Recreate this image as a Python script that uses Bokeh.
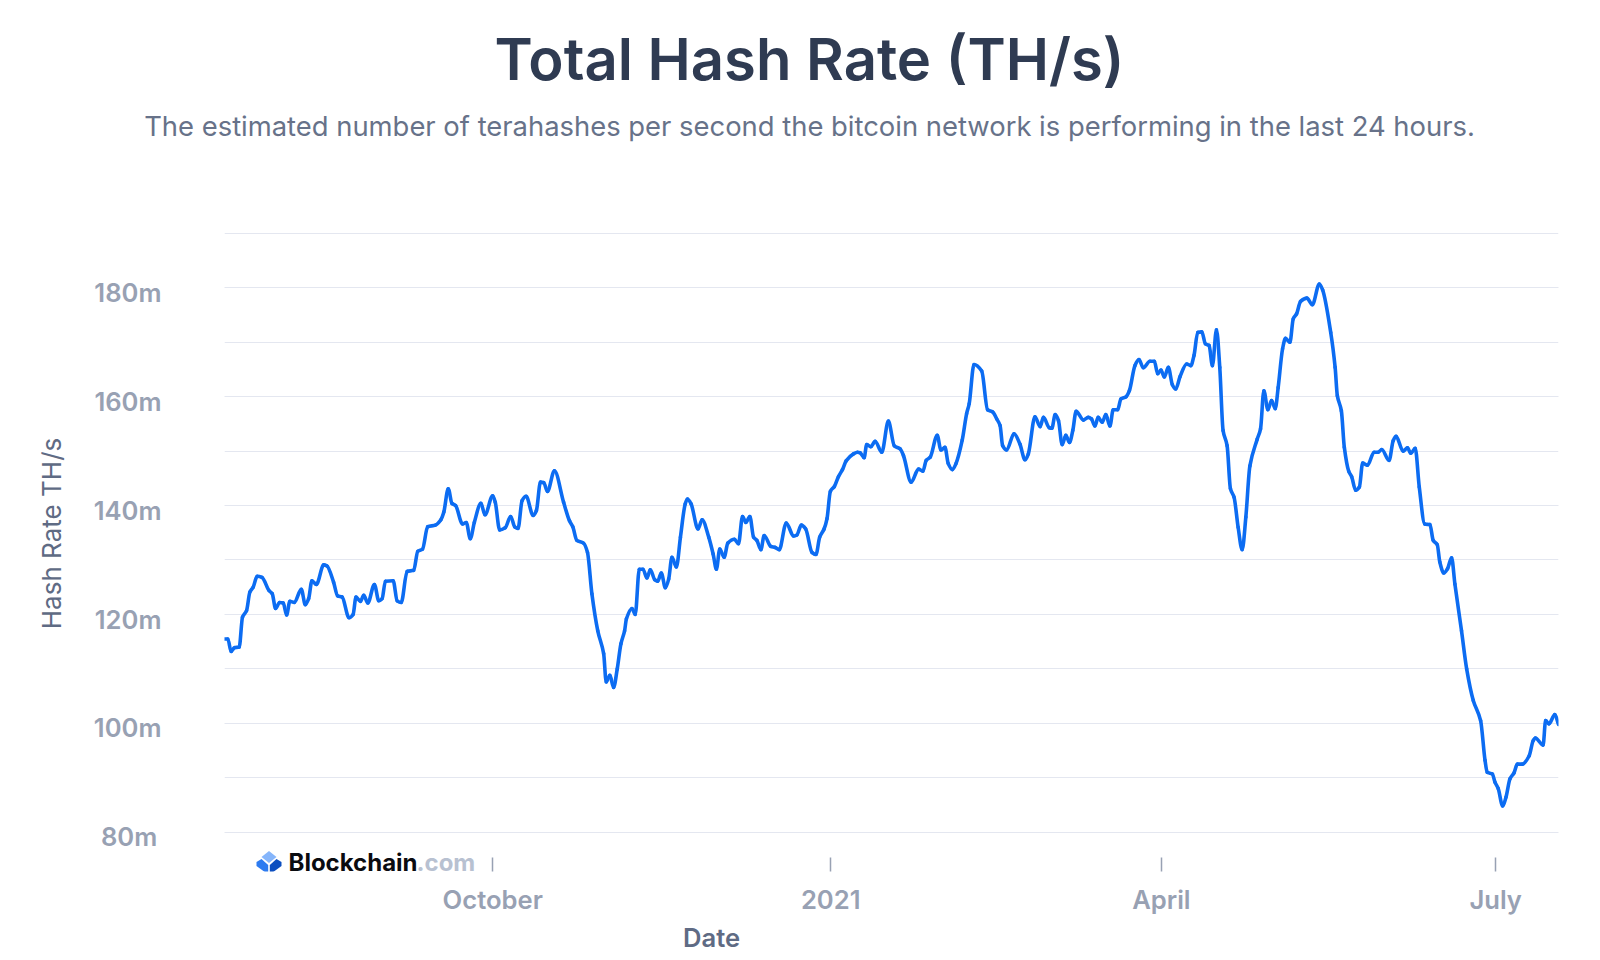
from datetime import datetime, timedelta
from bokeh.embed import file_html
from bokeh.resources import INLINE
from bokeh.plotting import figure
from bokeh.models import (Range1d, LinearAxis, FixedTicker, PrintfTickFormatter, Grid, Label, PolyAnnotation,
                          DatetimeAxis)

start_date = datetime(2020, 7, 20)
days = [0,0.9,1.8,2.7,4.0,4.9,6.0,6.9,7.8,8.9,10.2,12.1,13.0,13.9,15.0,16.0,16.9,17.8,19.0,20.9,22.0,22.9,23.8,25.0,27.0,27.9,29.7,30.8,32.0,33.9,35.0,35.8,37.0,37.9,39.0,40.8,42.0,42.9,43.8,45.9,47.0,48.1,49.7,51.5,52.6,53.9,55.3,57.4,58.9,59.7,60.9,61.9,62.9,64.8,65.8,66.9,68.0,69.8,70.9,73.0,73.7,74.9,76.4,77.9,79.0,79.9,81.0,82.1,84.0,84.9,86.0,86.9,87.9,89.8,92.3,93.9,94.8,95.9,97.7,98.8,100.0,101.6,103.2,103.9,104.9,105.9,106.9,107.9,108.9,109.4,110.9,111.8,112.9,113.9,115,115.9,117.1,117.9,118.9,120,120.9,121.8,123,124.1,125.4,126,127,128.9,130,131.8,133,133.9,134.8,136,137,138.8,139.9,141,141.9,143,144,144.9,146,146.9,148.7,149.9,151,152.9,154.9,155.8,157,158.2,159.9,161,162,163.2,164,164.9,166,167.1,168.2,169.2,171.2,172.3,173,174.1,174.8,175.9,177.1,178.9,180.7,182.3,183.9,184.8,186.9,188.9,190.1,191,192.1,194,195,196.1,197,198.1,199.1,200.8,202,202.7,204,206.1,207.7,209.1,210.2,211.1,211.8,212.9,214.9,216.5,217.9,218.8,220.6,222,222.9,224.5,225.2,226.1,227,228,229,230,230.9,231.8,233.8,235.1,236,236.9,237.8,238.9,239.9,241,241.9,243.1,244,245.4,246.3,247.8,248.9,250.1,251.9,253.1,254,254.9,255.8,256.9,258,258.9,260.1,261.9,263,263.9,264.9,266,267,268,268.9,270,270.9,271.8,272.9,273.8,274.8,275.9,277,278,279.1,281.1,282,282.9,284,285,286,286.8,288,288.8,290,290.9,291.8,292.9,294.6,296.1,298,298.9,301.1,302.3,302.9,304,304.8,306,306.8,307.9,308.9,309.8,311.1,312.9,314,315,317,318.1,318.9,320.8,322,322.9,324.1,325.2,326.7,328.1,329,330.1,330.8,331.9,332.9,334,334.9,336.7,338.1,339.9,341.9,343.1,343.7,345.1,345.8,346.7,347.9,348.8,349.9,351,351.9,353.3,355.1,356.2,356.8,358.9,359.6,360.5,362.1,363.1]
hash_rate_m = [115.5,115.5,113.2,113.9,114.0,119.5,120.7,124.1,125.0,127.0,126.8,124.4,123.8,121.1,122.2,122.1,119.9,122.4,122.2,124.6,121.8,122.9,126.2,125.5,129.1,128.9,125.9,123.4,123.2,119.4,120.0,123.2,122.4,123.5,122.1,125.5,122.5,122.9,126.1,126.2,122.5,122.2,127.9,128.1,131.6,132.0,136.1,136.4,137.4,138.8,143.1,140.4,140.0,136.6,136.9,133.9,136.9,140.4,138.3,141.8,140.6,135.5,135.9,138.0,136.1,135.8,140.9,141.7,138.2,139.1,144.3,144.2,142.6,146.4,140.6,137.2,136.1,133.6,133.1,131.4,123.8,117.0,112.8,107.6,108.8,106.6,110.0,114.6,117.0,119.2,121.1,120.0,128.3,128.3,126.7,128.2,126.4,126.1,127.6,124.9,126.5,130.5,128.7,134.2,140.3,141.2,140.3,135.7,137.4,134.2,131.1,128.3,132.0,130.5,133.1,133.8,133.0,138.0,136.9,138.0,134.2,133.6,131.9,134.5,132.5,132.3,131.9,136.8,134.4,134.6,136.4,135.7,131.4,131.0,134.2,135.7,137.6,142.6,143.5,145.3,146.6,148.2,149.5,149.8,149.7,148.8,151.2,150.8,151.8,149.8,155.5,151.0,150.4,149.2,144.3,146.7,146.3,148.3,148.9,152.9,150.2,150.7,147.7,146.6,147.7,152.0,156.9,158.7,165.9,164.7,157.6,157.2,155.9,154.7,151.0,150.2,153.2,151.3,148.4,149.5,156.3,154.5,156.2,154.3,154.2,156.7,155.6,151.2,152.9,151.6,153.8,157.3,155.7,156.2,155.9,154.6,156.2,155.3,156.7,154.6,157.6,157.6,159.6,160.0,161.1,165.7,166.8,165.3,166.5,166.5,164.2,164.9,163.6,165.4,162.2,161.4,163.7,166.0,165.7,167.6,171.8,171.9,169.7,169.4,165.7,172.3,165.4,153.8,151.0,143.1,141.5,136.0,131.9,137.9,147.3,152.2,154.1,161.1,157.6,159.3,157.8,161.7,168.8,170.7,170.0,174.3,175.2,177.5,178.1,176.9,180.7,179.6,171.8,165.4,160.2,157.4,150.7,146.3,145.3,142.8,143.4,147.8,147.4,149.8,149.8,150.3,148.3,151.9,152.7,150.0,150.6,149.6,150.5,143.4,136.6,136.5,133.6,132.8,129.6,127.6,128.4,130.4,125.6,117.0,110.0,104.2,100.5,93.2,91.0,90.7,89.2,88.0,84.8,86.4,89.8,90.9,92.5,92.5,94.0,96.8,97.3,96.0,100.5,99.9,101.6,99.8]

grid_values = [80,90,100,110,120,130,140,150,160,170,180,190]
y_tick_values = [80,100,120,140,160,180]
x_tick_dates = [datetime(2020,10,1), datetime(2021,1,1), datetime(2021,4,1), datetime(2021,7,1)]
x_tick_labels = ["October", "2021", "April", "July"]

TITLE = "Total Hash Rate (TH/s)"
SUBTITLE = "The estimated number of terahashes per second the bitcoin network is performing in the last 24 hours."

ms = lambda d: (d - datetime(1970,1,1)).total_seconds() * 1000
xs = [ms(start_date + timedelta(days=d)) for d in days]
ys = hash_rate_m

BLUE = "#0c6cf2"; FONT = "Inter"; SEMI = "Inter SemiBold, Inter"
TICK_C = "#98a1b3"; AXIS_C = "#5f6b84"

y0, y1 = 72.78, 190.34
p = figure(width=1592, height=952, output_backend="svg", toolbar_location=None,
           x_axis_type=None, y_axis_location=None,
           x_range=Range1d(ms(start_date), ms(start_date + timedelta(days=363.1))),
           y_range=Range1d(y0, y1),
           frame_width=1334, frame_height=640,
           min_border_left=224, min_border_right=34, min_border_top=231, min_border_bottom=81)
p.outline_line_color = None
p.background_fill_color = "white"; p.border_fill_color = "white"

p.add_layout(Grid(dimension=1, ticker=FixedTicker(ticks=grid_values), grid_line_color="#e4e7f0", grid_line_width=1.2))

p.extra_y_ranges = {"labels": Range1d(y0 + 0.85, y1 + 0.85)}
yax = LinearAxis(y_range_name="labels", ticker=FixedTicker(ticks=y_tick_values),
                 formatter=PrintfTickFormatter(format="%dm"),
                 major_label_overrides={80: "80m\u2009"},
                 axis_line_color=None, major_tick_line_color=None, minor_tick_line_color=None,
                 major_tick_in=0, major_tick_out=0, major_label_standoff=63,
                 major_label_text_font=SEMI, major_label_text_font_size="25.6px",
                 major_label_text_color=TICK_C)
p.add_layout(yax, "left")

xax = DatetimeAxis(ticker=FixedTicker(ticks=[ms(d) for d in x_tick_dates]),
                   major_label_overrides={ms(d): t for d, t in zip(x_tick_dates, x_tick_labels)},
                   axis_line_color=None, major_tick_line_color=TICK_C, major_tick_line_width=1.5,
                   major_tick_in=14, major_tick_out=0, minor_tick_line_color=None,
                   major_label_standoff=12, major_label_text_font=SEMI, major_label_text_font_size="25.6px",
                   major_label_text_color=TICK_C)
p.add_layout(xax, "below")

# monotone cubic through the read points, as the source chart's smoothed line
n = len(xs)
sl = [(ys[i+1]-ys[i])/(xs[i+1]-xs[i]) for i in range(n-1)]
m = [sl[0]] + [0.0 if sl[i-1]*sl[i] <= 0 else 2*sl[i-1]*sl[i]/(sl[i-1]+sl[i]) for i in range(1, n-1)] + [sl[-1]]
hx = [(xs[i+1]-xs[i])/3 for i in range(n-1)]
p.bezier(x0=xs[:-1], y0=ys[:-1], x1=xs[1:], y1=ys[1:],
         cx0=[xs[i]+hx[i] for i in range(n-1)], cy0=[ys[i]+m[i]*hx[i] for i in range(n-1)],
         cx1=[xs[i+1]-hx[i] for i in range(n-1)], cy1=[ys[i+1]-m[i+1]*hx[i] for i in range(n-1)],
         line_color=BLUE, line_width=3.6, line_cap="round")

def label(text, x, y, size, color, place, style="normal", align="center", angle=0, font=FONT):
    p.add_layout(Label(x=x, y=y, x_units="canvas", y_units="canvas", text=text, text_font=font,
                       text_font_size=size, text_font_style=style, text_color=color, text_align=align,
                       text_baseline="alphabetic", angle=angle), place)

label(TITLE, 809, 58.5, "58px", "#2f3b52", "above", font=SEMI)
label(SUBTITLE, 809, 125.5, "27.4px", "#677289", "above")
label("Hash Rate TH/s", 51, 533, "26px", AXIS_C, "left", angle=1.5708)
label("Date", 711, 937, "25.6px", AXIS_C, "below", font=SEMI)
label("Blockchain", 288, 862, "24px", "#0a0b10", "above", "bold", align="left")
label(".com", 416, 862, "24px", "#b8c1d1", "above", "bold", align="left")

def poly(pts, color):
    p.add_layout(PolyAnnotation(xs=[a for a,b in pts], ys=[b for a,b in pts], xs_units="canvas", ys_units="canvas",
                                fill_color=color, fill_alpha=1, line_color=None), "above")
poly([(268.5,850.5),(276,856.5),(268.5,862.5),(261,856.5)], "#85b5fb")
poly([(256,861.5),(261,858.5),(267.7,864.5),(267.7,874),(256,865.5)], "#2d7bf0")
poly([(281,861.5),(276,858.5),(269.3,864.5),(269.3,874),(281,865.5)], "#0c4fc0")

open("out.html", "w").write(file_html(p, INLINE))
